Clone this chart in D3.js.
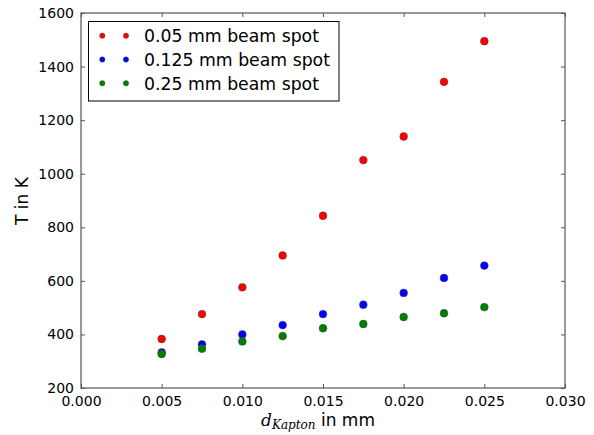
<!DOCTYPE html>
<html><head><meta charset="utf-8">
<script src="https://cdn.jsdelivr.net/npm/d3@7"></script>
<style>body{margin:0;background:#fff}svg{display:block}text{font-family:"DejaVu Sans",sans-serif;fill:#000}</style>
</head><body>
<svg id="c" width="594" height="435"></svg>
<script>
const xValues = [0.005, 0.0075, 0.010, 0.0125, 0.015, 0.0175, 0.020, 0.0225, 0.025];
const seriesNames = ["0.05 mm beam spot", "0.125 mm beam spot", "0.25 mm beam spot"];
const seriesColors = ["#ff0000", "#0000ff", "#007f00"];
const red005 = [383, 476, 576, 695, 843, 1051, 1139, 1343, 1495];
const blue0125 = [333, 363, 400, 435, 476, 511, 555, 611, 657];
const green025 = [327, 347, 374, 394, 423, 439, 465, 479, 502];
const xTicks = [0.000, 0.005, 0.010, 0.015, 0.020, 0.025, 0.030];
const yTicks = [200, 400, 600, 800, 1000, 1200, 1400, 1600];

const series = [red005, blue0125, green025];
const m = {l: 81, r: 565, t: 13, b: 388};
const svg = d3.select("#c");
const x = d3.scaleLinear().domain([0, 0.030]).range([m.l, m.r]);
const y = d3.scaleLinear().domain([200, 1600]).range([m.b, m.t]);

const axCol = "#555";
const gB = svg.append("g").attr("transform", `translate(0,${m.b})`)
  .call(d3.axisBottom(x).tickValues(xTicks).tickFormat(d3.format(".3f")).tickSizeInner(-4).tickSizeOuter(0).tickPadding(8));
const gT = svg.append("g").attr("transform", `translate(0,${m.t})`)
  .call(d3.axisTop(x).tickValues(xTicks).tickFormat("").tickSizeInner(-4).tickSizeOuter(0));
const gL = svg.append("g").attr("transform", `translate(${m.l},0)`)
  .call(d3.axisLeft(y).tickValues(yTicks).tickFormat(d3.format("d")).tickSizeInner(-4).tickSizeOuter(0).tickPadding(7));
const gR = svg.append("g").attr("transform", `translate(${m.r},0)`)
  .call(d3.axisRight(y).tickValues(yTicks).tickFormat("").tickSizeInner(-4).tickSizeOuter(0));
[gB, gT, gL, gR].forEach(g => {
  g.select(".domain").remove();
  g.selectAll("line").attr("stroke", axCol);
  g.selectAll("text").style("font-size", "14px").style("font-family", "DejaVu Sans");
});
svg.append("rect").attr("x", m.l).attr("y", m.t).attr("width", m.r - m.l).attr("height", m.b - m.t)
  .attr("fill", "none").attr("stroke", axCol).attr("stroke-width", 1.2);

series.forEach((s, i) => {
  svg.append("g").selectAll("circle").data(s).join("circle")
    .attr("cx", (d, j) => x(xValues[j])).attr("cy", d => y(d)).attr("r", 3.9)
    .attr("fill", seriesColors[i]).attr("stroke", "#444").attr("stroke-width", 0.5);
});

const lg = svg.append("g");
lg.append("rect").attr("x", 88.5).attr("y", 21.5).attr("width", 250.5).attr("height", 79.5)
  .attr("fill", "#fff").attr("stroke", "#000").attr("stroke-width", 1);
seriesNames.forEach((n, i) => {
  const cy = 35.7 + i * 23.8;
  [102.3, 126].forEach(cx => lg.append("circle").attr("cx", cx).attr("cy", cy).attr("r", 2.7)
    .attr("fill", seriesColors[i]).attr("stroke", "#444").attr("stroke-width", 0.4));
  lg.append("text").attr("x", 144).attr("y", cy + 6.2).style("font-size", "17.3px").text(n);
});

svg.append("text").attr("transform", "translate(28,201) rotate(-90)").attr("text-anchor", "middle")
  .style("font-size", "17px").text("T in K");
const xl = svg.append("text").attr("x", 318).attr("y", 426).attr("text-anchor", "middle").style("font-size", "17px");
xl.append("tspan").style("font-family", "DejaVu Serif").style("font-style", "italic").text("d");
xl.append("tspan").attr("dy", 3).style("font-family", "DejaVu Serif").style("font-style", "italic").style("font-size", "12px").text("Kapton");
xl.append("tspan").attr("dy", -3).text(" in mm");
</script>
</body></html>
